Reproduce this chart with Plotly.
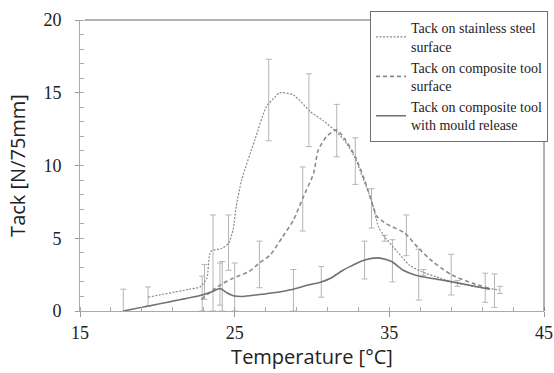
import plotly.graph_objects as go

# ---- curve data (Temperature [°C], Tack [N/75mm]) ----
steel_T = [19.4, 22.1, 22.75, 23.2, 23.45, 24.15, 24.6, 24.9, 25.1, 25.45, 26.3, 27.05, 27.6, 27.9,
           28.8, 29.9, 30.7, 31.6, 32.25, 32.8, 33.3, 33.85, 34.3, 34.7, 35.5, 36.3, 37.1, 38.3,
           39.45, 40.6, 41.8, 42.1]
steel_v = [0.95, 1.5, 1.65, 2.25, 4.1, 4.3, 4.65, 5.6, 7.2, 9.0, 11.75, 14.05, 14.7, 15.0,
           14.85, 13.7, 13.1, 12.3, 11.5, 10.5, 9.1, 7.6, 5.8, 5.1, 4.1, 3.15, 2.7, 2.25,
           1.9, 1.65, 1.5, 1.45]

comp_T = [22.85, 23.6, 24.25, 24.9, 25.9, 26.6, 27.3, 28.1, 28.8, 29.4, 30.1, 30.4, 30.95, 31.6,
          32.1, 32.8, 33.4, 33.95, 34.2, 34.8, 36.0, 36.9, 37.8, 39.0, 40.4, 41.5]
comp_v = [0.8, 1.45, 1.9, 2.25, 2.7, 3.3, 3.85, 5.1, 6.25, 7.75, 9.45, 11.05, 12.0, 12.45,
          11.85, 10.6, 9.0, 7.2, 6.5, 6.0, 5.35, 4.3, 3.4, 2.5, 1.9, 1.55]

mould_T = [17.8, 22.9, 23.5, 24.05, 24.5, 24.9, 25.5, 26.0, 27.5, 28.8, 29.8, 30.6, 31.2, 32.0,
           32.45, 33.4, 34.3, 35.15, 35.9, 36.9, 38.3, 39.8, 41.5]
mould_v = [0.0, 1.1, 1.3, 1.55, 1.25, 1.05, 1.0, 1.05, 1.25, 1.5, 1.8, 2.0, 2.25, 2.8,
           3.05, 3.5, 3.65, 3.4, 2.8, 2.4, 2.15, 1.85, 1.5]

# ---- error bar data (T, centre, +err, -err) ----
steel_eT = [19.4, 23.05, 23.6, 24.6, 27.2, 29.8, 31.6, 32.8, 34.7, 37.2, 39.4, 42.15]
steel_ec = [0.95, 2.0, 4.1, 4.6, 14.5, 13.8, 12.4, 10.3, 5.0, 2.65, 1.9, 1.45]
steel_ep = [0.7, 1.2, 2.5, 2.0, 2.8, 2.5, 1.8, 1.6, 0.2, 0.2, 0.2, 0.25]
steel_em = [0.6, 1.2, 4.1, 1.8, 2.8, 2.5, 1.8, 1.6, 0.2, 0.2, 0.2, 0.25]

comp_eT = [24.05, 26.6, 29.4, 33.85, 36.1, 39.0, 41.2]
comp_ec = [1.85, 3.2, 7.7, 7.05, 5.2, 2.5, 1.6]
comp_ep = [1.45, 1.6, 2.2, 1.35, 1.4, 1.4, 1.0]
comp_em = [1.45, 1.6, 2.2, 1.35, 1.4, 1.4, 1.0]

mould_eT = [17.8, 22.9, 24.2, 25.0, 28.8, 30.6, 33.4, 35.2, 36.9, 41.8]
mould_ec = [0.0, 1.2, 1.5, 1.0, 1.45, 2.0, 3.5, 3.45, 2.5, 1.4]
mould_ep = [1.5, 1.2, 1.9, 2.3, 1.4, 1.05, 1.3, 1.45, 1.75, 1.15]
mould_em = [1.5, 1.2, 1.5, 1.0, 1.45, 1.05, 1.3, 1.45, 1.75, 1.15]

x_ticks = [15, 25, 35, 45]
y_ticks = [0, 5, 10, 15, 20]

names = ["Tack on stainless steel<br>surface",
         "Tack on composite tool<br>surface",
         "Tack on composite tool<br>with mould release"]

fig = go.Figure()

EB = "#b5b5b5"
for eT, ec, ep, em in [(steel_eT, steel_ec, steel_ep, steel_em),
                       (comp_eT, comp_ec, comp_ep, comp_em),
                       (mould_eT, mould_ec, mould_ep, mould_em)]:
    fig.add_trace(go.Scatter(
        x=eT, y=ec, mode="markers", marker=dict(size=1, opacity=0),
        error_y=dict(type="data", symmetric=False, array=ep, arrayminus=em,
                     color=EB, thickness=1, width=3),
        showlegend=False, hoverinfo="skip", cliponaxis=True))

fig.add_trace(go.Scatter(x=steel_T, y=steel_v, mode="lines", name=names[0],
                         line=dict(color="#8a8a8a", width=1.2, dash="2px,1.5px",
                                   shape="spline", smoothing=0.6)))
fig.add_trace(go.Scatter(x=comp_T, y=comp_v, mode="lines", name=names[1],
                         line=dict(color="#8a8a8a", width=1.6, dash="4px,3px",
                                   shape="spline", smoothing=0.6)))
fig.add_trace(go.Scatter(x=mould_T, y=mould_v, mode="lines", name=names[2],
                         line=dict(color="#707070", width=1.6,
                                   shape="spline", smoothing=0.6)))

serif = "Liberation Serif"
sans = "Open Sans"

fig.update_layout(
    width=554, height=373,
    margin=dict(l=80, r=10, t=20, b=62, autoexpand=False),
    plot_bgcolor="white", paper_bgcolor="white",
    showlegend=True,
    legend=dict(x=0.625, y=1.03, xanchor="left", yanchor="top",
                bgcolor="white", bordercolor="#707070", borderwidth=1,
                font=dict(family=serif, size=14, color="#222"),
                itemwidth=30, tracegroupgap=0),
    xaxis=dict(range=[15, 45], tickvals=x_ticks, ticks="outside", ticklen=5,
               tickcolor="#999", showline=True, linecolor="#aaa", linewidth=1,
               showgrid=False, zeroline=False,
               minor=dict(dtick=2, tick0=15, ticks="inside", ticklen=4, tickcolor="#aaa"),
               tickfont=dict(family=serif, size=18, color="#222"),
               title=dict(text="Temperature [°C]", font=dict(family=sans, size=20, color="#222"),
                          standoff=4)),
    yaxis=dict(range=[0, 20], tickvals=y_ticks, ticks="outside", ticklen=4,
               tickcolor="#999", showline=True, linecolor="#aaa", linewidth=1,
               showgrid=False, zeroline=False,
               minor=dict(dtick=1, ticks="inside", ticklen=4, tickcolor="#aaa"),
               tickfont=dict(family=serif, size=18, color="#222"),
               ticklabelstandoff=10,
               title=dict(text="Tack [N/75mm]", font=dict(family=sans, size=20, color="#222"),
                          standoff=12)),
    shapes=[
        dict(type="line", xref="paper", yref="paper", x0=0.01, x1=1, y0=1, y1=1,
             line=dict(color="#666", width=1)),
        dict(type="line", xref="paper", yref="paper", x0=1, x1=1, y0=0, y1=1,
             line=dict(color="#666", width=1)),
    ],
)

fig.write_html("out.html")
